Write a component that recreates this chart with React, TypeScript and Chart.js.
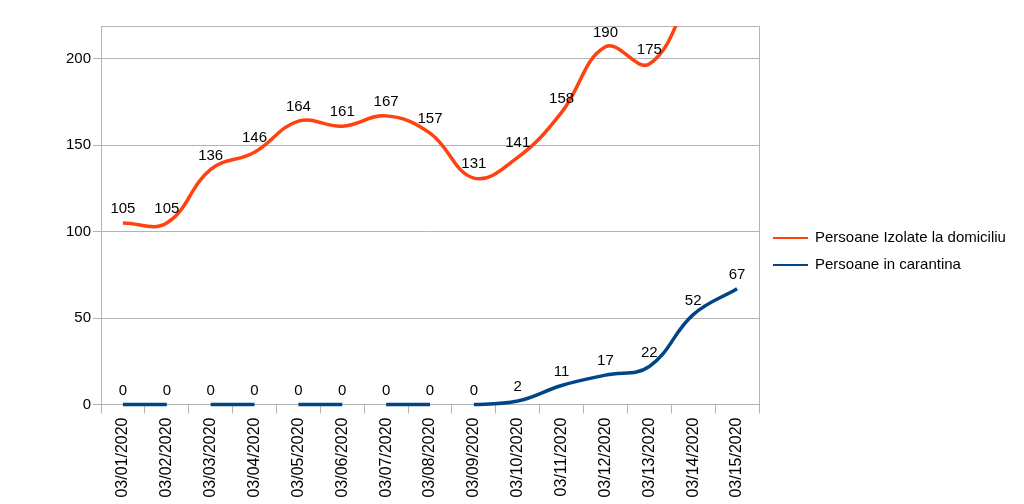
import React, { useEffect, useRef } from "react";
import { Chart, registerables } from "chart.js";

Chart.register(...registerables);

const categories = [
  "03/01/2020", "03/02/2020", "03/03/2020", "03/04/2020", "03/05/2020",
  "03/06/2020", "03/07/2020", "03/08/2020", "03/09/2020", "03/10/2020",
  "03/11/2020", "03/12/2020", "03/13/2020", "03/14/2020", "03/15/2020",
];
const izolate = [105, 105, 136, 146, 164, 161, 167, 157, 131, 141, 158, 190, 175, 190, 225];
const carantina = [0, 0, 0, 0, 0, 0, 0, 0, 0, 2, 11, 17, 22, 52, 67];
const yTicks = [0, 50, 100, 150, 200];
const labelIzolate = "Persoane Izolate la domiciliu";
const labelCarantina = "Persoane in carantina";

const FONT = '"Liberation Sans", Arial, sans-serif';
const GRID = "#b3b3b3";
const ORANGE = "#ff420e";
const BLUE = "#004586";

const framePlugin = {
  id: "frame",
  beforeDatasetsDraw(chart: any) {
    const { ctx, chartArea: a } = chart;
    ctx.save();
    ctx.strokeStyle = GRID;
    ctx.lineWidth = 1;
    ctx.beginPath();
    ctx.moveTo(Math.round(a.left) + 0.5, Math.round(a.top) + 0.5);
    ctx.lineTo(Math.round(a.right) + 0.5, Math.round(a.top) + 0.5);
    ctx.lineTo(Math.round(a.right) + 0.5, Math.round(a.bottom) + 0.5);
    ctx.stroke();
    ctx.restore();
  },
};

const labelsPlugin = {
  id: "valueLabels",
  afterDatasetsDraw(chart: any) {
    const { ctx, chartArea: a } = chart;
    ctx.save();
    ctx.font = `15px ${FONT}`;
    ctx.fillStyle = "#000";
    ctx.textAlign = "center";
    ctx.textBaseline = "middle";
    chart.data.datasets.forEach((ds: any, di: number) => {
      const meta = chart.getDatasetMeta(di);
      meta.data.forEach((pt: any, i: number) => {
        if (pt.y < a.top || pt.y > a.bottom + 1) return;
        ctx.fillText(String(ds.data[i]), pt.x, pt.y - 14);
      });
    });
    ctx.restore();
  },
};

const legendPlugin = {
  id: "customLegend",
  afterDraw(chart: any) {
    const { ctx } = chart;
    const items = [
      { text: labelIzolate, color: ORANGE, y: 238 },
      { text: labelCarantina, color: BLUE, y: 265 },
    ];
    ctx.save();
    ctx.font = `15px ${FONT}`;
    ctx.textAlign = "left";
    ctx.textBaseline = "middle";
    items.forEach((it) => {
      ctx.strokeStyle = it.color;
      ctx.lineWidth = 2;
      ctx.beginPath();
      ctx.moveTo(773, it.y);
      ctx.lineTo(808, it.y);
      ctx.stroke();
      ctx.fillStyle = "#000";
      ctx.fillText(it.text, 815, it.y);
    });
    ctx.restore();
  },
};

export default function App() {
  const ref = useRef<HTMLCanvasElement>(null);
  useEffect(() => {
    if (!ref.current) return;
    const chart = new Chart(ref.current, {
      type: "line",
      data: {
        labels: categories,
        datasets: [
          {
            label: labelCarantina,
            data: carantina,
            borderColor: BLUE,
            backgroundColor: BLUE,
            borderWidth: 3.5,
            pointRadius: 0,
            tension: 0.4,
            fill: false,
            clip: 6,
            segment: {
              borderColor: (c: any) =>
                c.p0DataIndex < 8 && c.p0DataIndex % 2 === 1 ? "rgba(0,0,0,0)" : undefined,
            },
          },
          {
            label: labelIzolate,
            data: izolate,
            borderColor: ORANGE,
            backgroundColor: ORANGE,
            borderWidth: 3.5,
            pointRadius: 0,
            tension: 0.4,
            fill: false,
          },
        ],
      },
      options: {
        animation: false,
        responsive: false,
        devicePixelRatio: 1,
        layout: { padding: { top: 26, right: 265, left: 0, bottom: 0 } },
        plugins: {
          legend: { display: false },
          tooltip: { enabled: false },
          title: { display: false },
        },
        scales: {
          x: {
            type: "category",
            offset: true,
            grid: {
              offset: true,
              drawOnChartArea: false,
              drawTicks: true,
              tickLength: 9,
              color: GRID,
            },
            border: { color: GRID },
            ticks: {
              minRotation: 90,
              maxRotation: 90,
              autoSkip: false,
              padding: 4,
              color: "#000",
              font: { family: FONT, size: 16 },
            },
            afterFit: (s: any) => {
              s.height = 99.5;
            },
          },
          y: {
            stacked: true,
            min: 0,
            max: 219,
            grid: { color: GRID, tickLength: 8 },
            border: { color: GRID },
            ticks: {
              padding: 2,
              color: "#000",
              font: { family: FONT, size: 15 },
            },
            afterBuildTicks: (s: any) => {
              s.ticks = yTicks.map((v) => ({ value: v }));
            },
            afterFit: (s: any) => {
              s.width = 101;
            },
          },
        },
      },
      plugins: [framePlugin, labelsPlugin, legendPlugin],
    });
    return () => chart.destroy();
  }, []);
  return (
    <div style={{ position: "fixed", left: 0, top: 0, width: 1024, height: 504, background: "#fff" }}>
      <canvas ref={ref} width={1024} height={504} />
    </div>
  );
}
